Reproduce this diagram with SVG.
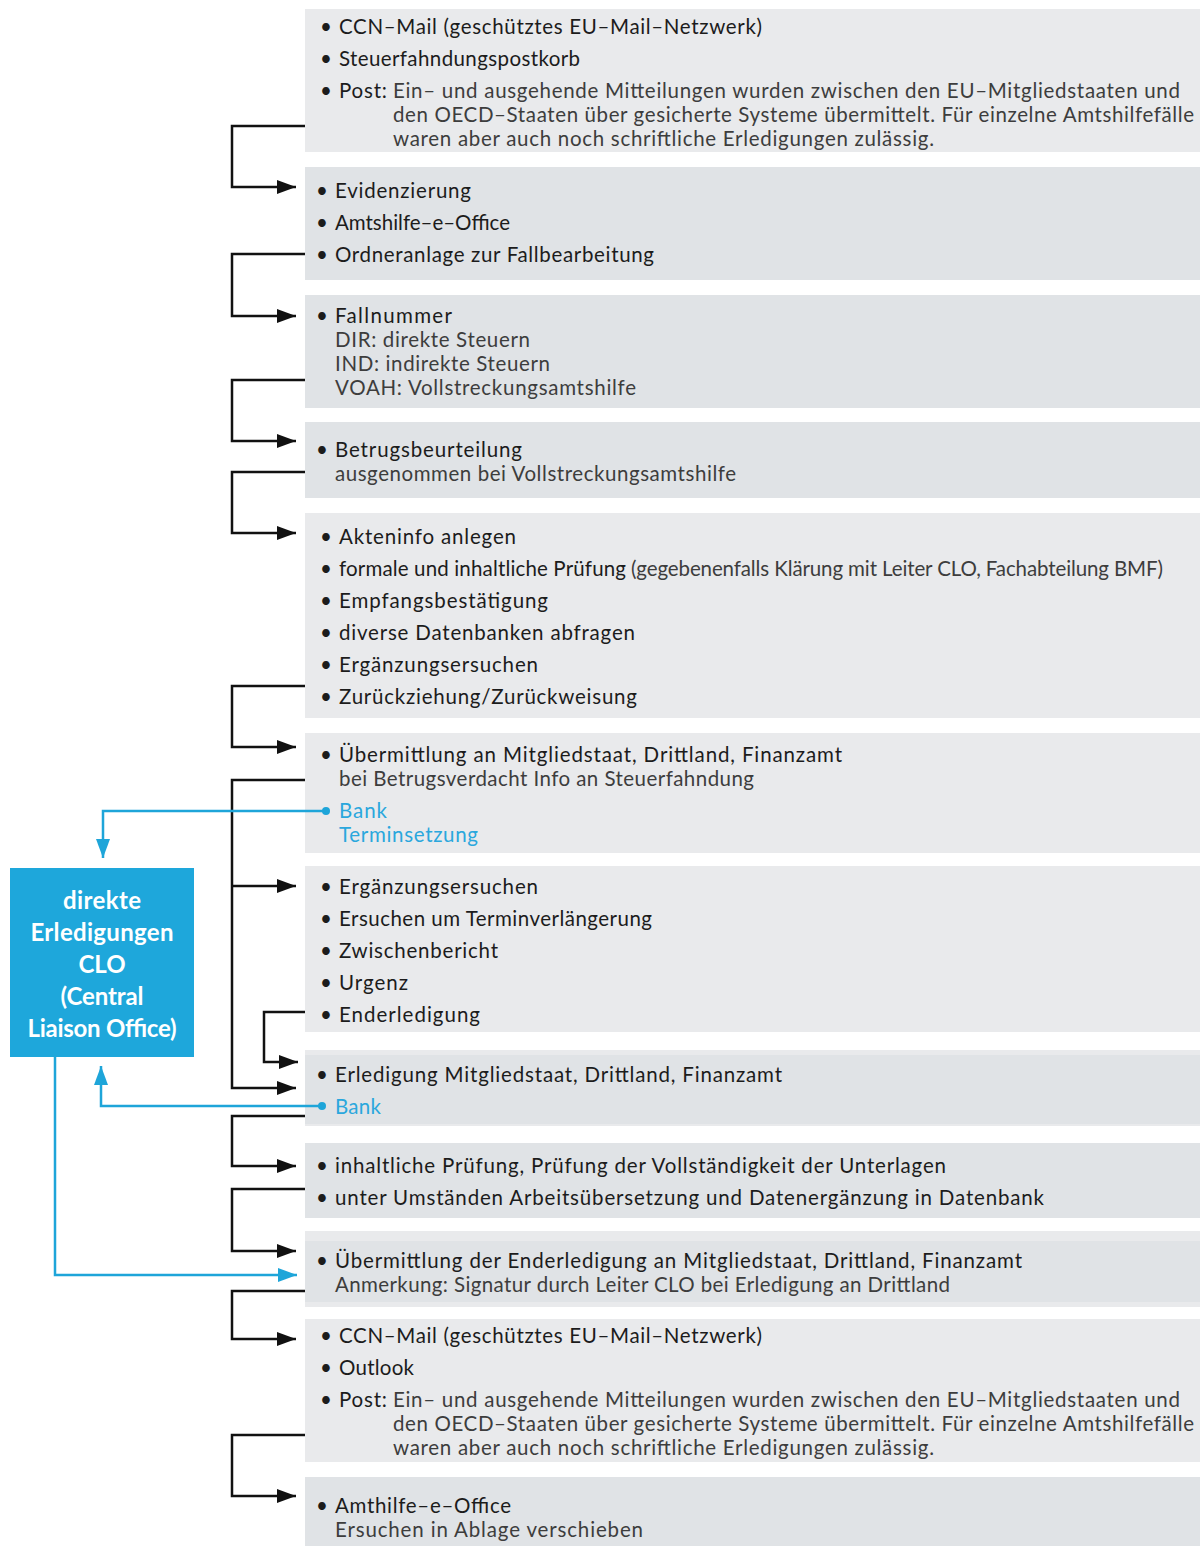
<svg xmlns="http://www.w3.org/2000/svg" width="1200" height="1546" viewBox="0 0 1200 1546">
<style>
.bl{fill:#e9eaec}
.bd{fill:#e0e3e6}
text{font-family:Lato,"Open Sans","Liberation Sans",sans-serif;font-size:20.5px}
.t{fill:#1c1c1c}
.s{fill:#3d3d3d}
.b{fill:#2aa7dd}
.w{fill:#ffffff;font-weight:bold;font-size:24px;text-anchor:middle}
.k{fill:none;stroke:#111;stroke-width:2.5}
.c{fill:none;stroke:#1ea5d9;stroke-width:2.5}
</style>
<defs>
<marker id="ak" markerUnits="userSpaceOnUse" markerWidth="20" markerHeight="16" refX="19" refY="7" orient="auto"><path d="M0,0 L19,7 L0,14 Z" fill="#111"/></marker>
<marker id="ab" markerUnits="userSpaceOnUse" markerWidth="20" markerHeight="16" refX="19" refY="7" orient="auto"><path d="M0,0 L19,7 L0,14 Z" fill="#1ea5d9"/></marker>
</defs>
<rect width="1200" height="1546" fill="#ffffff"/>

<g id="n1">
<rect class="bl" x="305" y="9" width="895" height="143"/>
<text class="t" x="320" y="34">•</text><text class="t" x="339" y="34" textLength="423">CCN–Mail (geschütztes EU–Mail–Netzwerk)</text>
<text class="t" x="320" y="66">•</text><text class="t" x="339" y="66" textLength="241">Steuerfahndungspostkorb</text>
<text class="t" x="320" y="98">•</text><text class="t" x="339" y="98" textLength="48">Post:</text>
<text class="s" x="393" y="98" textLength="787">Ein– und ausgehende Mitteilungen wurden zwischen den EU–Mitgliedstaaten und</text>
<text class="s" x="393" y="122" textLength="801">den OECD–Staaten über gesicherte Systeme übermittelt. Für einzelne Amtshilfefälle</text>
<text class="s" x="393" y="146" textLength="541">waren aber auch noch schriftliche Erledigungen zulässig.</text>
</g>

<g id="n2">
<rect class="bd" x="305" y="167" width="895" height="113"/>
<text class="t" x="316" y="198">•</text><text class="t" x="335" y="198" textLength="136">Evidenzierung</text>
<text class="t" x="316" y="230">•</text><text class="t" x="335" y="230" textLength="175">Amtshilfe–e–Office</text>
<text class="t" x="316" y="262">•</text><text class="t" x="335" y="262" textLength="319">Ordneranlage zur Fallbearbeitung</text>
</g>

<g id="n3">
<rect class="bd" x="305" y="295" width="895" height="113"/>
<text class="t" x="316" y="323">•</text><text class="t" x="335" y="323" textLength="117">Fallnummer</text>
<text class="s" x="335" y="347" textLength="195">DIR: direkte Steuern</text>
<text class="s" x="335" y="371" textLength="215">IND: indirekte Steuern</text>
<text class="s" x="335" y="395" textLength="301">VOAH: Vollstreckungsamtshilfe</text>
</g>

<g id="n4">
<rect class="bd" x="305" y="422" width="895" height="76"/>
<text class="t" x="316" y="457">•</text><text class="t" x="335" y="457" textLength="187">Betrugsbeurteilung</text>
<text class="s" x="335" y="481" textLength="401">ausgenommen bei Vollstreckungsamtshilfe</text>
</g>

<g id="n5">
<rect class="bl" x="305" y="513" width="895" height="205"/>
<text class="t" x="320" y="544">•</text><text class="t" x="339" y="544" textLength="177">Akteninfo anlegen</text>
<text class="t" x="320" y="576">•</text><text class="t" x="339" y="576" textLength="287">formale und inhaltliche Prüfung</text>
<text class="s" x="631" y="576" textLength="532">(gegebenenfalls Klärung mit Leiter CLO, Fachabteilung BMF)</text>
<text class="t" x="320" y="608">•</text><text class="t" x="339" y="608" textLength="209">Empfangsbestätigung</text>
<text class="t" x="320" y="640">•</text><text class="t" x="339" y="640" textLength="296">diverse Datenbanken abfragen</text>
<text class="t" x="320" y="672">•</text><text class="t" x="339" y="672" textLength="199">Ergänzungsersuchen</text>
<text class="t" x="320" y="704">•</text><text class="t" x="339" y="704" textLength="298">Zurückziehung/Zurückweisung</text>
</g>

<g id="n6">
<rect class="bl" x="305" y="733" width="895" height="120"/>
<text class="t" x="320" y="762">•</text><text class="t" x="339" y="762" textLength="503">Übermittlung an Mitgliedstaat, Drittland, Finanzamt</text>
<text class="s" x="339" y="786" textLength="415">bei Betrugsverdacht Info an Steuerfahndung</text>
<text class="b" x="339" y="818" textLength="48">Bank</text>
<text class="b" x="339" y="842" textLength="139">Terminsetzung</text>
</g>

<g id="n7">
<rect class="bl" x="305" y="866" width="895" height="166"/>
<text class="t" x="320" y="894">•</text><text class="t" x="339" y="894" textLength="199">Ergänzungsersuchen</text>
<text class="t" x="320" y="926">•</text><text class="t" x="339" y="926" textLength="313">Ersuchen um Terminverlängerung</text>
<text class="t" x="320" y="958">•</text><text class="t" x="339" y="958" textLength="159">Zwischenbericht</text>
<text class="t" x="320" y="990">•</text><text class="t" x="339" y="990" textLength="69">Urgenz</text>
<text class="t" x="320" y="1022">•</text><text class="t" x="339" y="1022" textLength="141">Enderledigung</text>
</g>

<g id="n8">
<rect class="bl" x="305" y="1050" width="895" height="76"/>
<rect class="bd" x="305" y="1055" width="895" height="69"/>
<text class="t" x="316" y="1082">•</text><text class="t" x="335" y="1082" textLength="447">Erledigung Mitgliedstaat, Drittland, Finanzamt</text>
<text class="b" x="335" y="1114" textLength="46">Bank</text>
</g>

<g id="n9">
<rect class="bd" x="305" y="1143" width="895" height="75"/>
<text class="t" x="316" y="1173">•</text><text class="t" x="335" y="1173" textLength="611">inhaltliche Prüfung, Prüfung der Vollständigkeit der Unterlagen</text>
<text class="t" x="316" y="1205">•</text><text class="t" x="335" y="1205" textLength="709">unter Umständen Arbeitsübersetzung und Datenergänzung in Datenbank</text>
</g>

<g id="n10">
<rect class="bl" x="305" y="1231" width="895" height="76"/>
<rect class="bd" x="305" y="1241" width="895" height="61"/>
<text class="t" x="316" y="1268">•</text><text class="t" x="335" y="1268" textLength="687">Übermittlung der Enderledigung an Mitgliedstaat, Drittland, Finanzamt</text>
<text class="s" x="335" y="1292" textLength="615">Anmerkung: Signatur durch Leiter CLO bei Erledigung an Drittland</text>
</g>

<g id="n11">
<rect class="bl" x="305" y="1319" width="895" height="143"/>
<text class="t" x="320" y="1343">•</text><text class="t" x="339" y="1343" textLength="423">CCN–Mail (geschütztes EU–Mail–Netzwerk)</text>
<text class="t" x="320" y="1375">•</text><text class="t" x="339" y="1375" textLength="75">Outlook</text>
<text class="t" x="320" y="1407">•</text><text class="t" x="339" y="1407" textLength="48">Post:</text>
<text class="s" x="393" y="1407" textLength="787">Ein– und ausgehende Mitteilungen wurden zwischen den EU–Mitgliedstaaten und</text>
<text class="s" x="393" y="1431" textLength="801">den OECD–Staaten über gesicherte Systeme übermittelt. Für einzelne Amtshilfefälle</text>
<text class="s" x="393" y="1455" textLength="541">waren aber auch noch schriftliche Erledigungen zulässig.</text>
</g>

<g id="n12">
<rect class="bd" x="305" y="1477" width="895" height="69"/>
<text class="t" x="316" y="1513">•</text><text class="t" x="335" y="1513" textLength="176">Amthilfe–e–Office</text>
<text class="s" x="335" y="1537" textLength="308">Ersuchen in Ablage verschieben</text>
</g>

<g id="clo">
<rect x="10" y="868" width="184" height="189" fill="#1ea7db"/>
<text class="w" x="102" y="909" textLength="78">direkte</text>
<text class="w" x="102" y="941" textLength="143">Erledigungen</text>
<text class="w" x="102" y="973">CLO</text>
<text class="w" x="102" y="1005" textLength="83">(Central</text>
<text class="w" x="102" y="1037" textLength="149">Liaison Office)</text>
</g>

<g id="connectors">
<polyline class="k" points="305,126 232,126 232,187 296,187" marker-end="url(#ak)"/>
<polyline class="k" points="305,254 232,254 232,316 296,316" marker-end="url(#ak)"/>
<polyline class="k" points="305,380 232,380 232,441 296,441" marker-end="url(#ak)"/>
<polyline class="k" points="305,472 232,472 232,533 296,533" marker-end="url(#ak)"/>
<polyline class="k" points="305,686 232,686 232,747 296,747" marker-end="url(#ak)"/>
<polyline class="k" points="305,780 232,780 232,1088 296,1088" marker-end="url(#ak)"/>
<line class="k" x1="232" y1="886" x2="296" y2="886" marker-end="url(#ak)"/>
<polyline class="k" points="305,1012 264,1012 264,1062 298,1062" marker-end="url(#ak)"/>
<polyline class="k" points="305,1116 232,1116 232,1166 296,1166" marker-end="url(#ak)"/>
<polyline class="k" points="305,1189 232,1189 232,1251 296,1251" marker-end="url(#ak)"/>
<polyline class="k" points="305,1291 232,1291 232,1339 296,1339" marker-end="url(#ak)"/>
<polyline class="k" points="305,1435 232,1435 232,1496 296,1496" marker-end="url(#ak)"/>
<circle cx="326" cy="811" r="4" fill="#1ea5d9"/>
<polyline class="c" points="326,811 103,811 103,858" marker-end="url(#ab)"/>
<circle cx="322" cy="1106" r="4" fill="#1ea5d9"/>
<polyline class="c" points="322,1106 101,1106 101,1066" marker-end="url(#ab)"/>
<polyline class="c" points="55,1057 55,1275 297,1275" marker-end="url(#ab)"/>
</g>
</svg>
